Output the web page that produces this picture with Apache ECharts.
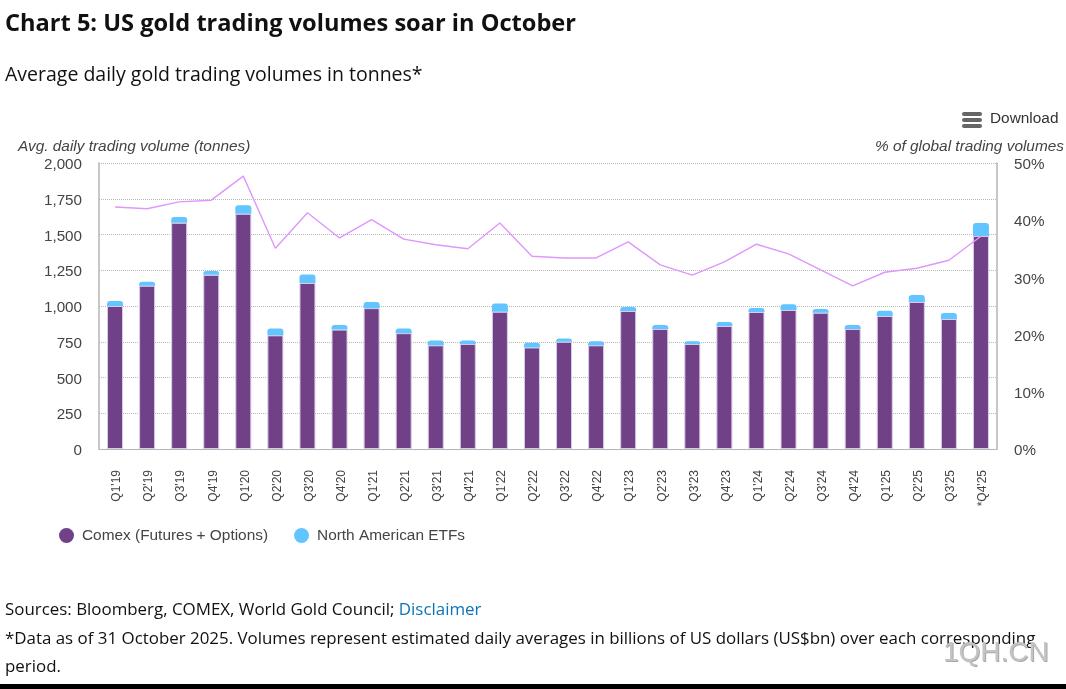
<!DOCTYPE html>
<html lang="en">
<head>
    <meta charset="UTF-8">
    <title>US gold trading volumes</title>
    <script src="https://cdn.jsdelivr.net/npm/echarts@6/dist/echarts.min.js"></script>
    <style>
        html, body { margin: 0; padding: 0; background: #fff; overflow: hidden; }
        #page { position: relative; width: 1066px; height: 689px; font-family: "Open Sans", "Noto Sans", sans-serif; color: #111; }
        #chart { position: absolute; left: 0; top: 0; width: 1066px; height: 689px; }
        .txt { position: absolute; white-space: nowrap; }
        #heading { left: 5px; top: 6px; font-size: 23.6px; font-weight: 700; line-height: 32px; }
        #sub { left: 5px; top: 61px; font-size: 19.5px; line-height: 26px; }
        #src { left: 5px; top: 597px; font-size: 16.9px; line-height: 23px; }
        #src span { color: #0a74b8; }
        #note { left: 5px; top: 624px; width: 1050px; font-size: 16.9px; line-height: 28px; white-space: normal; }
        #mark { left: 943px; top: 636px; font-size: 28px; line-height: 32px; color: #c4c4c4; text-shadow: 1px 1px 0 #a8a8a8; font-family: "Liberation Sans", sans-serif; }
        #footer { position: absolute; left: 0; top: 684px; width: 1066px; height: 5px; background: #000; }
        #download { left: 990px; top: 109px; font: 15.4px/18px "Liberation Sans", sans-serif; color: #333; }
        #burger { position: absolute; left: 962px; top: 112px; width: 20px; height: 17px; }
        #burger i { display: block; height: 4px; margin-bottom: 2px; background: #666; border-radius: 2px; }
    </style>
</head>
<body>
<div id="page">
    <div id="chart"></div>
    <div class="txt" id="heading">Chart 5: US gold trading volumes soar in October</div>
    <div class="txt" id="sub">Average daily gold trading volumes in tonnes*</div>
    <div id="burger"><i></i><i></i><i></i></div>
    <div class="txt" id="download">Download</div>
    <div class="txt" id="src">Sources: Bloomberg, COMEX, World Gold Council; <span>Disclaimer</span></div>
    <div class="txt" id="note">*Data as of 31 October 2025. Volumes represent estimated daily averages in billions of US dollars (US$bn) over each corresponding period.</div>
    <div class="txt" id="mark">1QH.CN</div>
    <div id="footer"></div>
</div>
<script>
    const quarters = ["Q1'19","Q2'19","Q3'19","Q4'19","Q1'20","Q2'20","Q3'20","Q4'20","Q1'21","Q2'21","Q3'21","Q4'21",
        "Q1'22","Q2'22","Q3'22","Q4'22","Q1'23","Q2'23","Q3'23","Q4'23","Q1'24","Q2'24","Q3'24","Q4'24","Q1'25","Q2'25","Q3'25","*Q4'25"];
    const comex = [1000,1142,1582,1218,1645,795,1161,835,985,810,725,735,960,710,750,725,965,840,735,860,958,972,953,840,930,1028,909,1490];
    const etfs = [35,28,40,27,60,48,60,33,43,33,33,23,58,33,23,28,28,28,18,28,28,40,26,28,37,49,42,90];
    const share = [42.3,42.0,43.2,43.5,47.7,35.1,41.3,36.9,40.1,36.7,35.7,35.0,39.5,33.7,33.4,33.4,36.2,32.2,30.4,32.7,35.8,34.1,31.3,28.5,30.9,31.6,33.0,37.2];

    const axisFont = 'Liberation Sans, Arial, sans-serif';
    const chart = echarts.init(document.getElementById('chart'), null, { renderer: 'canvas' });

    chart.setOption({
        animation: false,
        grid: { left: 99, right: 69, top: 163, bottom: 240, containLabel: false },
        legend: {
            left: 54, top: 523, itemGap: 26, itemWidth: 15, itemHeight: 15,
            data: [
                { name: 'Comex (Futures + Options)', icon: 'circle', itemStyle: { borderWidth: 0 } },
                { name: 'North American ETFs', icon: 'circle', itemStyle: { borderWidth: 0 } }
            ],
            textStyle: { fontFamily: axisFont, fontSize: 15.4, color: '#444', padding: [0, 0, 0, 3] }
        },
        xAxis: {
            type: 'category',
            data: quarters,
            axisTick: { show: false },
            axisLine: { lineStyle: { color: '#b5b5b5', width: 1 } },
            axisLabel: { rotate: 90, interval: 0, margin: 21, fontFamily: axisFont, fontSize: 12, color: '#444', verticalAlign: 'top', lineHeight: 4 }
        },
        yAxis: [
            {
                type: 'value', min: 0, max: 2000, interval: 250,
                axisLine: { show: true, lineStyle: { color: '#b5b5b5', width: 1.5 } },
                axisTick: { show: false },
                axisLabel: {
                    margin: 17, fontFamily: axisFont, fontSize: 15.2, color: '#444', verticalAlign: 'top', lineHeight: 4,
                    formatter: v => v.toLocaleString('en-US')
                },
                splitLine: { lineStyle: { color: '#b8b8b8', type: 'dotted', width: 1 } }
            },
            {
                type: 'value', min: 0, max: 50, interval: 10,
                axisLine: { show: true, lineStyle: { color: '#b5b5b5', width: 1.5 } },
                axisTick: { show: false },
                axisLabel: { margin: 17, fontFamily: axisFont, fontSize: 15.2, color: '#444', verticalAlign: 'top', lineHeight: 4, formatter: '{value}%' },
                splitLine: { show: false }
            }
        ],
        graphic: [
            { type: 'text', left: 18, top: 139, style: { text: 'Avg. daily trading volume (tonnes)', fontFamily: axisFont, fontStyle: 'italic', fontSize: 15.4, fill: '#444' } },
            { type: 'text', right: 2, top: 139, style: { text: '% of global trading volumes', fontFamily: axisFont, fontStyle: 'italic', fontSize: 15.4, fill: '#444' } }
        ],
        series: [
            {
                name: 'Comex (Futures + Options)', type: 'bar', stack: 'vol', barWidth: 16, data: comex,
                itemStyle: { color: '#704187', borderColor: '#dccbe6', borderWidth: 1 }
            },
            {
                name: 'North American ETFs', type: 'bar', stack: 'vol', barWidth: 16, data: etfs,
                itemStyle: { color: '#62c5ff', borderRadius: [3, 3, 0, 0] }
            },
            {
                name: 'Share of global volumes', type: 'line', yAxisIndex: 1, data: share,
                symbol: 'none', lineStyle: { color: '#df96ff', width: 1.4 }, z: 5
            }
        ]
    });
</script>
</body>
</html>
